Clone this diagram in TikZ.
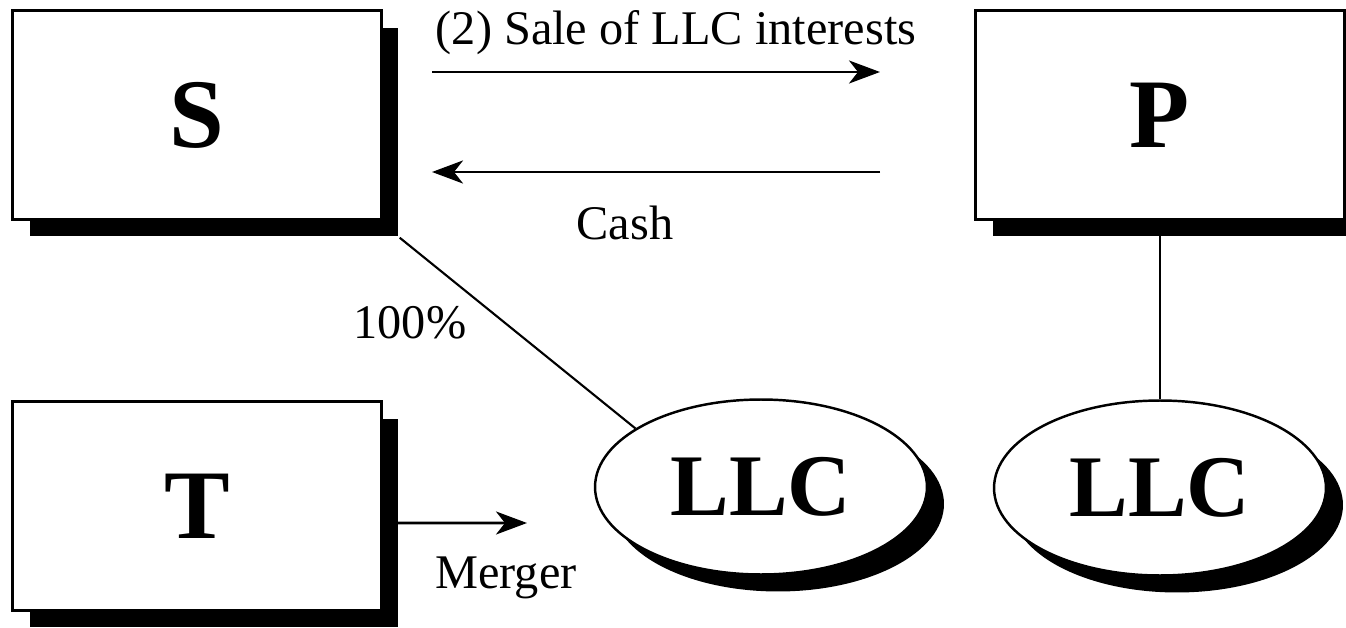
\documentclass[tikz,border=0pt]{standalone}
\usepackage{fontspec}
\setmainfont{Liberation Serif}
\usetikzlibrary{arrows.meta, shapes.geometric, shadows}

\tikzset{
  firm/.style = {draw, line width=1.4pt, fill=white, inner sep=0pt,
    minimum width=7.38cm, minimum height=4.18cm,
    font=\fontsize{56}{56}\selectfont\bfseries,
    drop shadow={shadow xshift=0.34cm, shadow yshift=-0.34cm, fill=black, opacity=1}},
  llc/.style = {ellipse, draw, line width=1.4pt, fill=white, inner sep=0pt,
    minimum width=6.64cm, minimum height=3.5cm,
    font=\fontsize{50}{50}\selectfont\bfseries,
    drop shadow={shadow xshift=0.34cm, shadow yshift=-0.34cm, fill=black, opacity=1}},
  lbl/.style = {font=\fontsize{27.5}{27.5}\selectfont, anchor = base},
  flow/.style = {line width=1.6pt, -{Stealth[length=0.62cm, width=0.46cm, inset=0.18cm]}}
}

\begin{document}
\begin{tikzpicture}[x=0.02cm, y=-0.02cm]
\useasboundingbox (0,0) rectangle (1346,628);

% entities
\node[firm] (S) at (197,115) {S};
\node[firm] (P) at (1160,115) {P};
\node[firm] (T) at (197,506) {T};
\node[llc] (LLCa) at (761,487) {LLC};
\node[llc] (LLCb) at (1160,488) {LLC};

% sale and cash
\coordinate (sale1) at (432,72);
\coordinate (sale2) at (880,72);
\coordinate (cash1) at (880,172);
\coordinate (cash2) at (432,172);
\draw[flow] (sale1) -- (sale2);
\draw[flow] (cash1) -- (cash2);
\node[lbl] (sale) at (676,45) {(2) Sale of LLC interests};
\node[lbl] (cash) at (625,240) {Cash};

% ownership
\draw[line width=1.2pt] ([shift={(0.34cm,-0.34cm)}]S.south east) -- (LLCa.155);
\node[lbl] (own) at (410,338) {100\%};
\draw[line width=1.2pt] (LLCb.north) -- (LLCb.north |- P.south);

% merger
\coordinate (mrg) at (527,523);
\draw[flow] ([yshift=-0.34cm]T.east) -- (mrg);
\node[lbl] (merger) at (506,588) {Merger};
\end{tikzpicture}
\end{document}
